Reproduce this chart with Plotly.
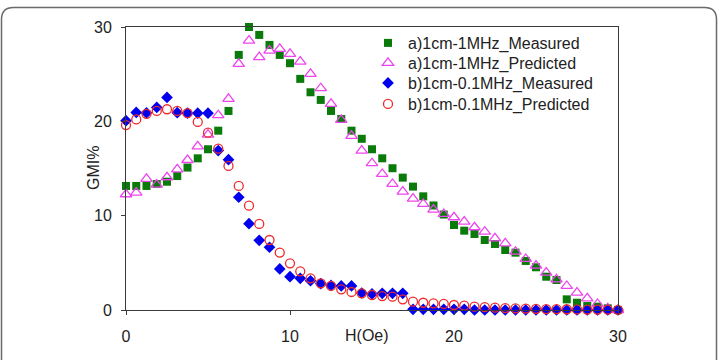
import plotly.graph_objects as go

# H field values (Oe)
H = [0, 0.625, 1.25, 1.875, 2.5, 3.125, 3.75, 4.375, 5, 5.625,
     6.25, 6.875, 7.5, 8.125, 8.75, 9.375, 10, 10.625, 11.25, 11.875,
     12.5, 13.125, 13.75, 14.375, 15, 15.625, 16.25, 16.875, 17.5, 18.125,
     18.75, 19.375, 20, 20.625, 21.25, 21.875, 22.5, 23.125, 23.75, 24.375,
     25, 25.625, 26.25, 26.875, 27.5, 28.125, 28.75, 29.375, 30]

a_meas = [13.15, 13.15, 13.15, 13.36, 13.6, 14.2, 15.1, 16.08, 17.04, 19.01,
          21.1, 27.04, 30.0, 29.16, 28.1, 27.04, 26.16, 24.5, 23.08, 22.27,
          21.1, 20.25, 19.01, 18.15, 17.04, 16.08, 15.03, 14.03, 13.08, 12.05,
          11.08, 10.12, 9.01, 8.41, 8.06, 7.42, 7.0, 6.36, 6.08, 5.2,
          4.53, 3.53, 3.18, 1.13, 0.77, 0.42, 0.35, 0.18, 0.0]

a_pred = [12.27, 12.44, 13.9, 13.3, 14.07, 14.9, 15.9, 17.35, 18.6, 20.65,
          22.38, 26.09, 28.56, 26.8, 27.5, 27.68, 27.15, 26.33, 25.03, 23.51,
          21.85, 20.15, 18.46, 16.9, 15.56, 14.42, 13.36, 12.55, 11.8, 11.24,
          10.64, 10.18, 9.83, 9.37, 8.77, 8.3, 7.6, 7.07, 6.18, 5.41,
          4.7, 3.96, 3.25, 2.55, 1.84, 1.24, 0.64, 0.18, 0.0]

b_meas = [20.07, 20.94, 20.9, 21.47, 22.53, 20.92, 20.86, 20.86, 20.86, 16.9,
          15.94, 11.95, 9.15, 7.39, 6.65, 4.35, 3.53, 3.36, 3.1, 2.8,
          2.6, 2.55, 2.55, 1.8, 1.7, 1.77, 1.77, 1.77, 0.07, 0.07,
          0.07, 0.07, 0.07, 0.07, 0.0, 0.0, 0.0, 0.0, 0.0, 0.0,
          0.0, 0.0, 0.0, 0.0, 0.0, 0.0, 0.0, 0.0, 0.0]

b_pred = [19.6, 20.2, 20.8, 21.1, 21.28, 21.1, 20.86, 19.94, 18.8, 17.1,
          15.27, 13.15, 11.06, 9.12, 7.42, 6.08, 4.95, 4.1, 3.36, 2.83,
          2.55, 2.19, 1.91, 1.77, 1.59, 1.48, 1.41, 1.13, 0.88, 0.77,
          0.71, 0.64, 0.53, 0.46, 0.35, 0.3, 0.25, 0.2, 0.18, 0.15,
          0.12, 0.1, 0.1, 0.08, 0.06, 0.05, 0.04, 0.03, 0.02]

names = ["a)1cm-1MHz_Measured", "a)1cm-1MHz_Predicted",
         "b)1cm-0.1MHz_Measured", "b)1cm-0.1MHz_Predicted"]

FONT = "Liberation Sans, Arial, sans-serif"

fig = go.Figure()
fig.add_trace(go.Scatter(x=H, y=a_meas, mode="markers", name=names[0], cliponaxis=False,
                         legend="legend",
                         marker=dict(symbol="square", size=8, color="#0a7a0a")))
fig.add_trace(go.Scatter(x=H, y=a_pred, mode="markers", name=names[1], cliponaxis=False,
                         legend="legend2",
                         marker=dict(symbol="triangle-up-open", size=10, color="#ee44ee",
                                     line=dict(width=1.3, color="#ee44ee"))))
fig.add_trace(go.Scatter(x=H, y=b_meas, mode="markers", name=names[2], cliponaxis=False,
                         legend="legend3",
                         marker=dict(symbol="diamond", size=9, color="#0000ee")))
fig.add_trace(go.Scatter(x=H, y=b_pred, mode="markers", name=names[3], cliponaxis=False,
                         legend="legend4",
                         marker=dict(symbol="circle-open", size=9, color="#ee2a2a",
                                     line=dict(width=1.3, color="#ee2a2a"))))

# plot area in pixels: x 126..618, y 27..310
L, R, T, B = 126, 618, 27, 310
W, Hh = R - L, B - T


def px(x):
    return (x - L) / W


def py(y):
    return (B - y) / Hh


# outer rounded frame
x0, x1, y0, y1 = px(1.5), px(716.5), py(7.5), py(380)
rx, ry = 12 / W, 12 / Hh
path = (f"M {x0},{y1} L {x0},{y0 - ry} Q {x0},{y0} {x0 + rx},{y0} "
        f"L {x1 - rx},{y0} Q {x1},{y0} {x1},{y0 - ry} L {x1},{y1}")
fig.add_shape(type="path", path=path, xref="paper", yref="paper",
              line=dict(color="#6a6a6a", width=1.5), layer="below")

axis_common = dict(showgrid=False, zeroline=False, showline=True, mirror=True,
                   linecolor="#3a3a3a", linewidth=1, ticks="outside", ticklen=4,
                   tickcolor="#3a3a3a", tickfont=dict(family=FONT, size=16, color="#222"))


def leg(row_y):
    return dict(x=px(368), y=py(row_y), xanchor="left", yanchor="middle",
                font=dict(family=FONT, size=16, color="#222"),
                bgcolor="rgba(0,0,0,0)", borderwidth=0)


fig.update_layout(
    width=719, height=360,
    margin=dict(l=L, r=719 - R, t=T, b=360 - B),
    paper_bgcolor="white", plot_bgcolor="white",
    showlegend=True,
    legend=leg(43), legend2=leg(63), legend3=leg(83), legend4=leg(104),
    xaxis=dict(range=[0, 30], tickvals=[0, 10, 20, 30], ticklabelstandoff=8, **axis_common),
    yaxis=dict(range=[0, 30], tickvals=[0, 10, 20, 30], ticklabelstandoff=6, **axis_common),
    annotations=[
        dict(text="H(Oe)", x=px(367), y=py(335), xref="paper", yref="paper",
             showarrow=False, xanchor="center", yanchor="middle",
             font=dict(family=FONT, size=16, color="#222")),
        dict(text="GMI%", x=px(93), y=py(168), xref="paper", yref="paper",
             showarrow=False, xanchor="center", yanchor="middle", textangle=-90,
             font=dict(family=FONT, size=16, color="#222")),
    ],
)

fig.write_html("out.html")
